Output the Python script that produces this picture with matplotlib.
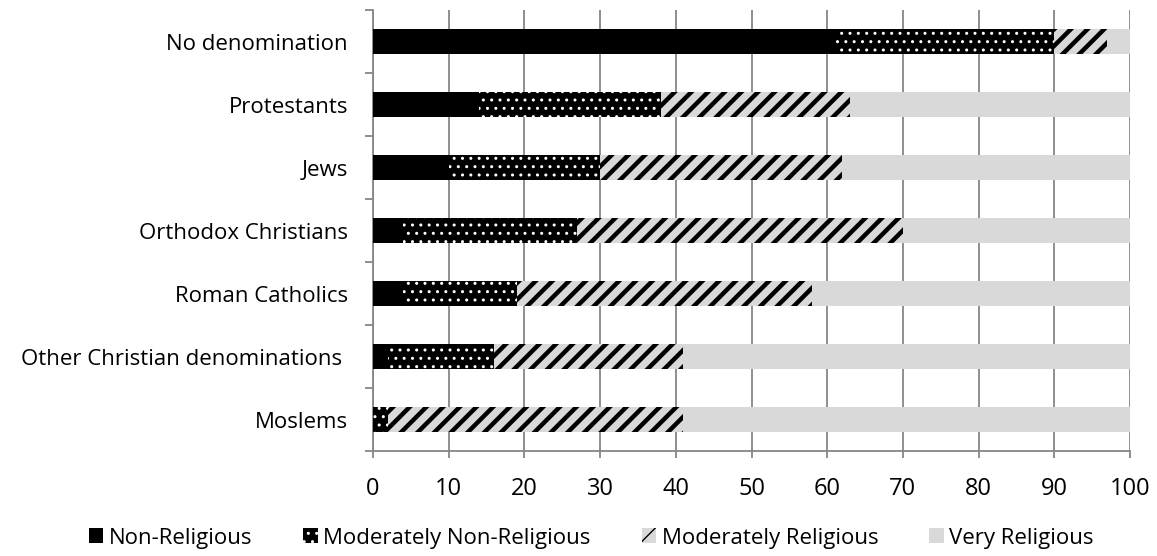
import matplotlib.pyplot as plt
import numpy as np

plt.rcParams['font.family'] = ['Open Sans', 'DejaVu Sans']

categories = ['No denomination', 'Protestants', 'Jews', 'Orthodox Christians',
              'Roman Catholics', 'Other Christian denominations ', 'Moslems']
series = ['Non-Religious', 'Moderately Non-Religious', 'Moderately Religious', 'Very Religious']
non_rel = [61, 14, 10, 4, 4, 2, 0]
mod_non_rel = [29, 24, 20, 23, 15, 14, 2]
mod_rel = [7, 25, 32, 43, 39, 25, 39]
very_rel = [3, 37, 38, 30, 42, 59, 59]

styles = [
    dict(color='black', edgecolor='black', hatch=None, hlw=1.0),
    dict(color='black', edgecolor='white', hatch='..', hlw=1.0),
    dict(color='#d9d9d9', edgecolor='black', hatch='//', hlw=3.2),
    dict(color='#d9d9d9', edgecolor='#d9d9d9', hatch=None, hlw=1.0),
]

fig = plt.figure(figsize=(11.57, 5.56), dpi=100)
ax = fig.add_axes([0.3224, 0.1888, 0.6543, 0.7932])

y = np.arange(len(categories))[::-1]
left = np.zeros(len(categories))
handles = []
for name, vals, st in zip(series, [non_rel, mod_non_rel, mod_rel, very_rel], styles):
    with plt.rc_context({'hatch.linewidth': st['hlw']}):
        b = ax.barh(y, vals, left=left, height=0.4, color=st['color'],
                    edgecolor=st['edgecolor'], hatch=st['hatch'], linewidth=0,
                    label=name, zorder=3)
    handles.append(b)
    left += np.array(vals)

ax.set_xlim(0, 100)
ax.set_ylim(-0.5, len(categories) - 0.5)
ax.set_xticks(np.arange(0, 101, 10))
ax.set_yticks(y)
ax.set_yticklabels(categories)
ax.set_yticks(np.arange(-0.5, len(categories), 1), minor=True)
ax.tick_params(axis='y', which='major', length=0, pad=18, labelsize=16)
ax.tick_params(axis='y', which='minor', length=6, color='#868686', width=1.3)
ax.tick_params(axis='x', which='major', length=5, color='#868686', width=1.3,
               labelsize=17, pad=14)
ax.grid(axis='x', color='#868686', linewidth=1.3, zorder=0)
for s in ['top', 'right']:
    ax.spines[s].set_visible(False)
for s in ['left', 'bottom']:
    ax.spines[s].set_color('#868686')
    ax.spines[s].set_linewidth(1.3)

fig.legend(handles=handles, labels=series, loc='center', bbox_to_anchor=(0.511, 0.032),
           ncol=4, frameon=False, fontsize=16, handlelength=0.65, handleheight=0.65,
           handletextpad=0.25, columnspacing=2.3)

fig.savefig('out.png', dpi=100)
